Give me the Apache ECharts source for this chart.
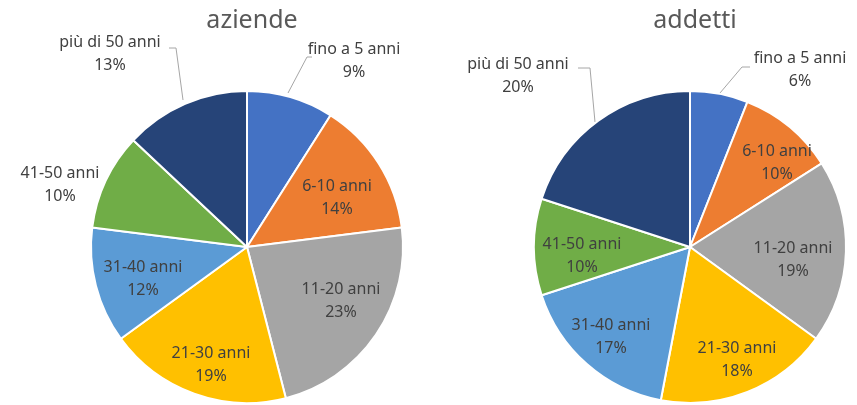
<!DOCTYPE html>
<html>
<head>
<meta charset="utf-8">
<script src="https://cdn.jsdelivr.net/npm/echarts@6/dist/echarts.min.js"></script>
<style>
  html, body { margin: 0; padding: 0; background: #ffffff; }
  #chart { width: 857px; height: 405px; }
</style>
</head>
<body>
<div id="chart"></div>
<script>
  // fasce di età dell'impresa
  var categories = ["fino a 5 anni", "6-10 anni", "11-20 anni", "21-30 anni", "31-40 anni", "41-50 anni", "più di 50 anni"];
  var titles = ["aziende", "addetti"];
  var aziende = [9, 14, 23, 19, 12, 10, 13];
  var addetti = [6, 10, 19, 18, 17, 10, 20];

  var colors = ["#4472C4", "#ED7D31", "#A5A5A5", "#FFC000", "#5B9BD5", "#70AD47", "#264478"];
  var centers = [[247, 247], [690, 247]];

  // dove Excel ha messo le etichette (centro del blocco di testo)
  var labelPos = [
    [[354, 61], [337, 198], [341, 301], [211, 365], [143, 279], [60, 185], [110, 54]],
    [[800, 70], [777, 163], [793, 260], [737, 360], [611, 337], [582, 256], [518, 76]]
  ];
  // linee guida per le fette piccole in alto
  var leaders = [
    { 0: [[288, 93], [307, 57], [312, 57]], 6: [[183, 100], [176, 48], [169, 48]] },
    { 0: [[720, 93], [742, 67], [750, 67]], 6: [[595, 122], [590, 68], [578, 68]] }
  ];

  function buildData(values, s) {
    return values.map(function (v, i) {
      var outside = !!leaders[s][i];
      return {
        name: categories[i],
        value: v,
        itemStyle: { color: colors[i] },
        label: { position: outside ? "outside" : "inside" },
        labelLine: { show: outside }
      };
    });
  }

  function buildSeries(values, s) {
    return {
      type: "pie",
      center: centers[s],
      radius: 156,
      startAngle: 90,
      clockwise: true,
      silent: true,
      avoidLabelOverlap: false,
      itemStyle: { borderColor: "#ffffff", borderWidth: 2 },
      label: {
        show: true,
        formatter: "{b}\n{c}%",
        color: "#404040",
        fontFamily: "Noto Sans",
        fontSize: 16,
        lineHeight: 23,
        align: "center"
      },
      labelLine: {
        show: false,
        lineStyle: { color: "#a6a6a6", width: 1 }
      },
      labelLayout: function (params) {
        var p = labelPos[s][params.dataIndex];
        var out = { x: p[0], y: p[1], align: "center", verticalAlign: "middle" };
        if (leaders[s][params.dataIndex]) out.labelLinePoints = leaders[s][params.dataIndex];
        return out;
      },
      data: buildData(values, s)
    };
  }

  var chart = echarts.init(document.getElementById("chart"), null, { renderer: "canvas" });
  chart.setOption({
    backgroundColor: "#ffffff",
    animation: false,
    title: titles.map(function (t, i) {
      return {
        text: t,
        left: centers[i][0],
        top: 3,
        textAlign: "center",
        textStyle: { color: "#595959", fontFamily: "Noto Sans", fontSize: 25, fontWeight: "normal" }
      };
    }),
    series: [buildSeries(aziende, 0), buildSeries(addetti, 1)]
  });
</script>
</body>
</html>
